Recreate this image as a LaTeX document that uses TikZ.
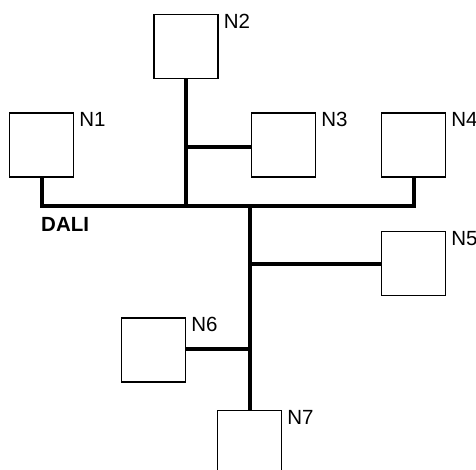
\documentclass[tikz,border=0pt]{standalone}
\usepackage{fontspec}
\setmainfont{Liberation Sans}
\begin{document}
\begin{tikzpicture}[x=1pt,y=-1pt,
  dev/.style={draw=black,line width=1.2pt,fill=white,minimum width=64pt,minimum height=64pt,inner sep=0pt,rectangle},
  lbl/.style={anchor=north west,inner sep=0pt,font=\fontsize{20.5}{24}\selectfont},
  bus/.style={line width=4pt,line join=miter,line cap=butt}]
\useasboundingbox (0,0) rectangle (476,470);
\node[dev] (n1) at (41.5,145) {};
\node[dev] (n2) at (186,46.5) {};
\node[dev] (n3) at (283.5,145) {};
\node[dev] (n4) at (413.5,145) {};
\node[dev] (n5) at (413.5,263.5) {};
\node[dev] (n6) at (153.5,350) {};
\node[dev] (n7) at (249.5,442.5) {};
\coordinate (b) at (0,206);
\node[lbl] (l1) at ([xshift=5pt]n1.north east) {N1};
\node[lbl] (l2) at ([xshift=5pt]n2.north east) {N2};
\node[lbl] (l3) at ([xshift=5pt]n3.north east) {N3};
\node[lbl] (l4) at ([xshift=5pt]n4.north east) {N4};
\node[lbl] (l5) at ([xshift=5pt]n5.north east) {N5};
\node[lbl] (l6) at ([xshift=5pt]n6.north east) {N6};
\node[lbl] (l7) at ([xshift=5pt]n7.north east) {N7};
\node[lbl,font=\fontsize{20.5}{24}\selectfont\bfseries] (dali) at (41,217) {DALI};
\draw[bus] (n1.south) -- (n1.south |- b) -- (n4.south |- b) -- (n4.south);
\draw[bus] (n2.south) -- (n2.south |- b);
\draw[bus] ([yshift=-2pt]n3.west) -- ([yshift=-2pt]n3.west -| n2.south);
\draw[bus] (n7.north) -- (n7.north |- b);
\draw[bus] (n5.west) -- (n5.west -| n7.north);
\draw[bus] ([yshift=1pt]n6.east) -- ([yshift=1pt]n6.east -| n7.north);
\end{tikzpicture}
\end{document}
